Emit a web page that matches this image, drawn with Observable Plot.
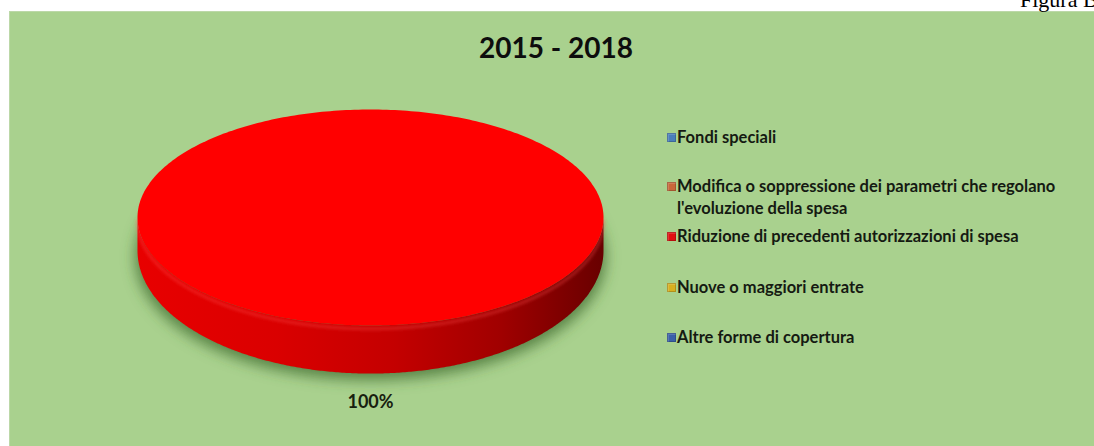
<!DOCTYPE html>
<html>
<head>
<meta charset="utf-8">
<script src="https://cdn.jsdelivr.net/npm/d3@7"></script>
<script src="https://cdn.jsdelivr.net/npm/@observablehq/plot@0.6"></script>
<style>
  html, body { margin: 0; padding: 0; background: #ffffff; }
  #wrap { position: relative; width: 1094px; height: 446px; overflow: hidden; background: #ffffff; }
  #panel { position: absolute; left: 9px; top: 11px; right: -2px; bottom: -2px; background: #a9d18e;
           border-left: 1px solid #bcd8a8; border-top: 1px solid #bcd8a8; }
  #fig { position: absolute; left: 1020px; top: -11px; font-family: "Liberation Serif", "DejaVu Serif", serif;
         font-size: 22px; line-height: 22px; color: #000; white-space: nowrap; }
  #title { position: absolute; left: 406px; width: 300px; top: 30px; text-align: center;
           font-family: Lato, "Open Sans", sans-serif; font-weight: 700; font-size: 28px; line-height: 34px; color: #0d0d0d; }
  #chart { position: absolute; left: 117px; top: 99px; }
  .lg { position: absolute; left: 677px; width: 430px; font-family: Lato, "Open Sans", sans-serif; font-weight: 700;
        font-size: 16.5px; line-height: 22px; color: #151a12; }
  .mk { position: absolute; left: -10px; top: 7px; width: 9px; height: 9px;
        box-shadow: inset 0 0 0 1px rgba(0,0,0,0.18), inset 1px 1px 0 1px rgba(255,255,255,0.15); }
</style>
</head>
<body>
<div id="wrap">
  <div id="panel"></div>
  <div id="fig">Figura B</div>
  <div id="title"></div>
  <div id="chart"></div>
</div>
<script>
// ---- data ----
const title = "2015 - 2018";
const categories = [
  "Fondi speciali",
  "Modifica o soppressione dei parametri che regolano l'evoluzione della spesa",
  "Riduzione di precedenti autorizzazioni di spesa",
  "Nuove o maggiori entrate",
  "Altre forme di copertura"
];
const values = [0, 0, 100, 0, 0];

// ---- style ----
const sliceColors = ["#4a7ebb", "#c8683a", "#ff0000", "#d8b020", "#3a60a8"];
const markerColors = ["#4a7ebb", "#c8683a", "#e01010", "#d8b020", "#3a60a8"];
const legendTops = [126, 175, 225, 276, 326];

document.getElementById("title").textContent = title;

// legend
const wrap = document.getElementById("wrap");
categories.forEach((c, i) => {
  const div = document.createElement("div");
  div.className = "lg";
  div.style.top = legendTops[i] + "px";
  const mk = document.createElement("span");
  mk.className = "mk";
  mk.style.background = markerColors[i];
  div.appendChild(mk);
  div.appendChild(document.createTextNode(c));
  wrap.appendChild(div);
});

// pie geometry (3D disc seen in perspective)
const data = categories.map((c, i) => ({category: c, value: values[i], idx: i}));
const total = d3.sum(values);
const arcs = d3.pie().sort(null).value(d => d.value)(data);
const bcy = 0.306, bry = 1.139; // lower rim ellipse
const N = 360;
const topPts = [], sidePts = [], shadowPts = [], rimPts = [], labelPts = [];
arcs.forEach(a => {
  if (a.value <= 0) return;
  const i = a.data.idx;
  const full = a.endAngle - a.startAngle >= 2 * Math.PI - 1e-9;
  if (!full) topPts.push({x: 0, y: 0, key: i});
  for (let k = 0; k <= N; k++) {
    const t = a.startAngle + (a.endAngle - a.startAngle) * k / N;
    topPts.push({x: Math.sin(t), y: -Math.cos(t), key: i});
  }
  const s = Math.max(a.startAngle, Math.PI / 2), e = Math.min(a.endAngle, 3 * Math.PI / 2);
  if (e > s) {
    const up = [], dn = [];
    for (let k = 0; k <= N; k++) {
      const t = s + (e - s) * k / N;
      up.push({x: Math.sin(t), y: -Math.cos(t), key: i});
      dn.push({x: Math.sin(t), y: bcy - bry * Math.cos(t), key: i});
      rimPts.push({x: Math.sin(t), y: -Math.cos(t) + 0.03, key: i});
    }
    sidePts.push(...up, ...dn.reverse());
  }
  const mid = (a.startAngle + a.endAngle) / 2;
  labelPts.push({x: Math.sin(mid) * 0.02, y: bcy - bry * Math.cos(mid) + 0.27, text: d3.format(".0%")(a.value / total)});
});
for (let k = 0; k <= N; k++) {
  const t = 2 * Math.PI * k / N;
  shadowPts.push({x: 1.01 * Math.sin(t), y: bcy + 0.06 - bry * Math.cos(t)});
}

const chart = Plot.plot({
  width: 506, height: 395,
  marginLeft: 20, marginRight: 20, marginTop: 10, marginBottom: 7,
  x: {domain: [-1, 1], range: [20, 486], axis: null},
  y: {domain: [-1, 2.5], range: [10, 388], axis: null},
  style: {background: "transparent", overflow: "visible"},
  marks: [
    Plot.line(shadowPts, {x: "x", y: "y", fill: "#3d6a2c", fillOpacity: 0.75, stroke: "none", curve: "linear"}),
    Plot.line(sidePts, {x: "x", y: "y", z: "key", fill: "#c00000", stroke: "none", curve: "linear"}),
    Plot.line(rimPts, {x: "x", y: "y", z: "key", stroke: "#ff5050", strokeWidth: 3, strokeOpacity: 0.35, curve: "linear"}),
    Plot.line(topPts, {x: "x", y: "y", z: "key", fill: d => sliceColors[d.key], stroke: "none", curve: "linear"}),
    Plot.text(labelPts, {x: "x", y: "y", text: "text", fontFamily: "Lato", fontWeight: "bold", fontSize: 18, fill: "#17200f"})
  ]
});

const svg = d3.select(chart);
const defs = svg.insert("defs", ":first-child");
const g = defs.append("linearGradient").attr("id", "sideGrad").attr("x1", 0).attr("x2", 1).attr("y1", 0).attr("y2", 0);
[[0, "#e80000"], [0.3, "#da0000"], [0.55, "#c40000"], [0.78, "#a00000"], [0.92, "#7c0000"], [1, "#680000"]]
  .forEach(([o, c]) => g.append("stop").attr("offset", o).attr("stop-color", c));
defs.append("filter").attr("id", "blurShadow").attr("x", "-20%").attr("y", "-20%").attr("width", "140%").attr("height", "140%")
  .append("feGaussianBlur").attr("stdDeviation", 7);
defs.append("filter").attr("id", "blurRim").append("feGaussianBlur").attr("stdDeviation", 1.5);
const lines = svg.selectAll("g[aria-label='line']").nodes();
if (lines[0]) d3.select(lines[0]).attr("filter", "url(#blurShadow)");
if (lines[1]) d3.select(lines[1]).selectAll("path").attr("fill", "url(#sideGrad)");
if (lines[2]) d3.select(lines[2]).attr("filter", "url(#blurRim)");

document.getElementById("chart").appendChild(chart);
</script>
</body>
</html>
